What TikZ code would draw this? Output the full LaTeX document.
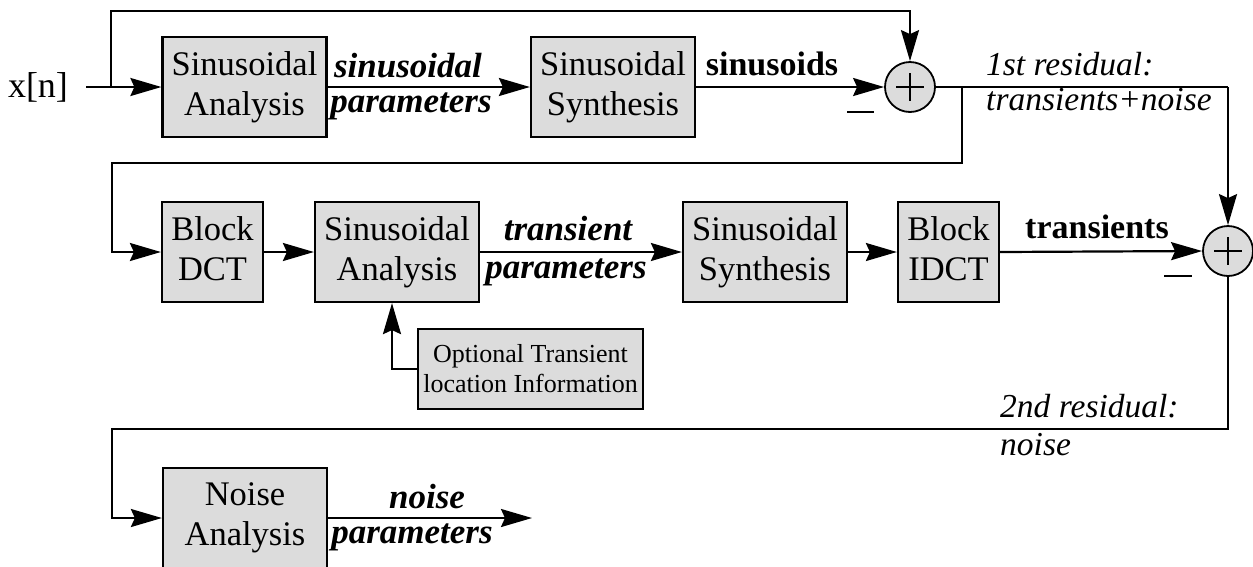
\documentclass[tikz,border=0pt]{standalone}
\usepackage{fontspec}
\setmainfont{Liberation Serif}
\usetikzlibrary{arrows.meta}
\definecolor{boxgray}{HTML}{DCDCDC}
\begin{document}
\begin{tikzpicture}[x=1pt,y=-1pt,
  box/.style={draw, line width=2.2pt, fill=boxgray, inner sep=0pt, align=center,
    font=\fontsize{34.5}{40}\selectfont},
  sbox/.style={box, minimum width=164pt, minimum height=100pt},
  nbox/.style={box, minimum width=101pt, minimum height=100pt},
  sum/.style={draw, line width=1.8pt, fill=boxgray, circle, minimum size=50pt, inner sep=0pt},
  plusline/.style={line width=1.1pt},
  arr/.style={-{Stealth[length=31pt,width=18pt,inset=4pt]}, line width=2.2pt},
  line/.style={line width=2.2pt},
  lbl/.style={inner sep=0pt, anchor=base, font=\fontsize{35}{35}\selectfont\bfseries\itshape},
  blbl/.style={inner sep=0pt, anchor=base, font=\fontsize{34}{34}\selectfont\bfseries},
  ilbl/.style={inner sep=0pt, anchor=base west, font=\fontsize{33.5}{34}\selectfont\itshape}
]
\useasboundingbox (0,0) rectangle (1253,566);

% ---- row 1
\node[inner sep=0pt, anchor=base, font=\fontsize{36}{36}\selectfont] (xn) at (38,97) {x[n]};
\coordinate (xs) at (86,87);
\coordinate (br1) at (111,87);
\coordinate (top1) at (111,11);
\node[sbox] (A1) at (244.5,87) {Sinusoidal\\Analysis};
\node[sbox] (S1) at (613,87) {Sinusoidal\\Synthesis};
\node[sum] (c1) at (910,87) {};
\draw[plusline] (c1.center) +(-14,0) -- +(14,0);
\draw[plusline] (c1.center) +(0,-14) -- +(0,14);

\draw[arr] (xs) -- (A1.west);
\draw[arr] (br1) -- (top1) -| (c1.north);
\draw[arr] (A1.east) -- (S1.west);
\draw[arr] (S1.east) -- (c1.west);
\node[lbl] (p1a) at (408,77) {sinusoidal};
\node[lbl] (p1b) at (411,112) {parameters};
\node[blbl] (sn) at (772,75) {sinusoids};
\draw[line] ([shift={(-63,25)}]c1.center) -- ++(27,0);
\node[ilbl] (r1a) at (986,75) {1st residual:};
\node[ilbl] (r1b) at (986,110) {transients+noise};

% ---- row 2
\coordinate (r1end) at (1228,87);
\coordinate (br2) at (962,87);
\coordinate (br2b) at (962,163);
\coordinate (left2) at (112,163);
\node[nbox] (DCT) at (212.5,252) {Block\\DCT\vphantom{y}};
\node[sbox] (A2) at (397,252) {Sinusoidal\\Analysis};
\node[sbox] (S2) at (765,252) {Sinusoidal\\Synthesis};
\node[nbox] (IDCT) at (948.5,252) {Block\\IDCT\vphantom{y}};
\node[sum] (c2) at (1228,251) {};
\draw[plusline] (c2.center) +(-14,0) -- +(14,0);
\draw[plusline] (c2.center) +(0,-14) -- +(0,14);
\node[box, minimum width=225pt, minimum height=80pt, line width=2pt,
  font=\fontsize{26}{30}\selectfont] (opt) at (530.5,369) {Optional Transient\\location Information};

\draw[line] (c1.east) -- (r1end);
\draw[arr] (r1end) -- (c2.north);
\draw[arr] (br2) -- (br2b) -- (left2) |- (DCT.west);
\draw[arr] (DCT.east) -- (A2.west);
\draw[arr] (A2.east) -- (S2.west);
\draw[arr] (S2.east) -- (IDCT.west);
\draw[arr] (IDCT.east) -- (c2.west);
\draw[arr] (opt.west) -| ([xshift=-5pt]A2.south);
\node[lbl] (p2a) at (568,240) {transient};
\node[lbl] (p2b) at (566,278) {parameters};
\node[blbl] (tr) at (1097,238) {transients};
\draw[line] ([shift={(-64,25)}]c2.center) -- ++(28,0);
\node[ilbl] (r2a) at (1000,417) {2nd residual:};
\node[ilbl] (r2b) at (1000,455) {noise};

% ---- row 3
\coordinate (r2end) at (1228,429);
\coordinate (left3) at (112,429);
\coordinate (nout) at (532,518);
\node[sbox] (N) at (245,518) {Noise\\Analysis};
\draw[arr] (c2.south) -- (r2end) -- (left3) |- (N.west);
\draw[arr] (N.east) -- (nout);
\node[lbl] (p3a) at (427,508) {noise};
\node[lbl] (p3b) at (412,543) {parameters};
\end{tikzpicture}
\end{document}
